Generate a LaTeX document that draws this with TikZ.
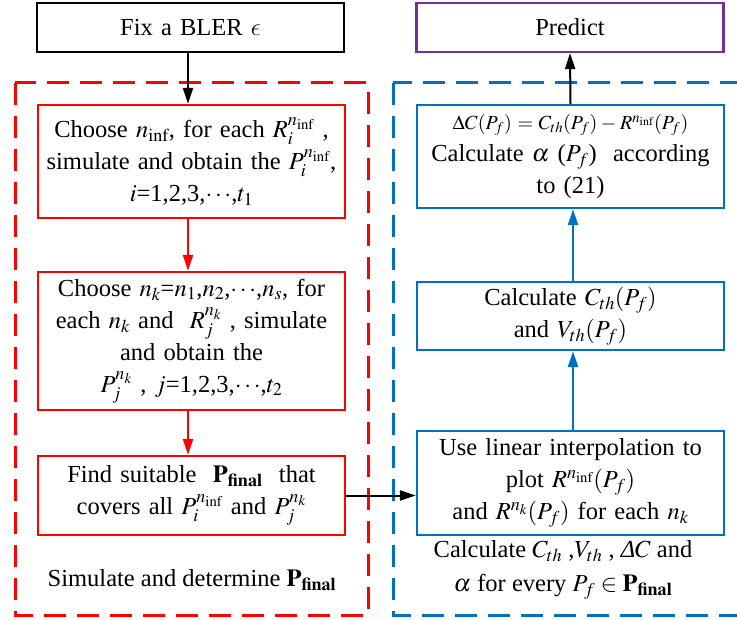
\documentclass[tikz,border=0pt]{standalone}
\usepackage{mathptmx}
\usepackage[no-math]{fontspec}
\setmainfont{Liberation Serif}
\usetikzlibrary{arrows.meta,calc}

\definecolor{flowred}{RGB}{255,0,0}
\definecolor{flowblue}{RGB}{0,112,192}
\definecolor{flowpurple}{RGB}{112,48,160}

\newcommand{\ninf}{n_{\mathrm{inf}}}
\newcommand{\Pfin}{\mathbf{P}_{\mathbf{final}}}
\newcommand{\lunateeps}{{\usefont{OML}{cmm}{m}{it}\char15}}

\tikzset{
  every node/.style={font=\fontsize{24.5}{32}\selectfont},
  stepbox/.style={draw, line width=2.2pt, align=center, inner sep=2pt,
    text width=303pt, minimum width=307pt},
  redbox/.style={stepbox, draw=flowred},
  bluebox/.style={stepbox, draw=flowblue},
  blackbox/.style={stepbox, draw=black},
  purplebox/.style={stepbox, draw=flowpurple},
  frame/.style={line width=3pt, dash pattern=on 22pt off 11pt},
  flow/.style={line width=2pt, -{Triangle[length=16pt,width=10pt]}},
}

\begin{document}
\begin{tikzpicture}[x=1pt,y=1pt]
\useasboundingbox (0,0) rectangle (737,-620);

% group frames
\draw[frame, draw=flowred] (15,-83) rectangle (368,-615);
\draw[frame, draw=flowblue] (393,-83) rectangle (745,-615);

% top boxes
\node[blackbox, minimum height=49pt] (fix) at (190.5,-27.5) {Fix a BLER \lunateeps};
\node[purplebox, minimum height=49pt] (pred) at (570,-27.5) {Predict};

% left column
\node[redbox, minimum height=113pt] (b1) at (191.5,-161.5)
  {Choose $\ninf$, for each $R_i^{\ninf}$ ,\\
   simulate and obtain the $P_i^{\ninf}$,\\
   $i$=1,2,3,$\cdots$,$t_1$};
\node[redbox, minimum height=138pt] (b2) at (191.5,-341)
  {Choose $n_k$=$n_1$,$n_2$,$\cdots$,$n_s$, for\\
   each $n_k$ and \ $R_j^{n_k}$ , simulate\\
   and obtain the\\
   $P_j^{n_k}$ , $j$=1,2,3,$\cdots$,$t_2$};
\node[redbox, minimum height=79pt] (b3) at (191.5,-495.5)
  {Find suitable \ $\Pfin$ \ that\\
   covers all $P_i^{\ninf}$ and $P_j^{n_k}$};
\node (lbl) at (192,-580) {Simulate and determine $\Pfin$};

% right column
\node[bluebox, minimum height=103pt] (ba) at (570.5,-156.5)
  {{\fontsize{20}{28}\selectfont $\Delta C(P_f) = C_{th}(P_f) - R^{\ninf}(P_f)$}\\
   Calculate $\alpha$ ($P_f$) \ according\\
   to (21)};
\node[bluebox, minimum height=68pt] (bb) at (570.5,-316)
  {Calculate $C_{th}(P_f)$\\ and $V_{th}(P_f)$};
\node[bluebox, minimum height=104pt] (bc) at (570.5,-483)
  {Use linear interpolation to\\
   plot $R^{\ninf}(P_f)$\\
   and $R^{n_k}(P_f)$ for each $n_k$};
\node[align=center, font=\fontsize{24.5}{34}\selectfont] (lbr) at (563,-570)
  {Calculate $C_{th}$ ,$V_{th}$ , \textit{Δ}$C$ and\\
   $\alpha$ for every $P_f \in \Pfin$};

% connectors
\draw[flow] ($(fix.south)+(-2.5,0)$) -- ($(b1.north)+(-3.5,0)$);
\draw[flow, draw=flowred, -{Triangle[length=16pt,width=10pt,fill=flowred]}] ($(b1.south)+(-3.5,0)$) -- ($(b2.north)+(-3.5,0)$);
\draw[flow, draw=flowred, -{Triangle[length=16pt,width=10pt,fill=flowred]}] ($(b2.south)+(-3.5,0)$) -- ($(b3.north)+(-3.5,0)$);
\draw[flow] (b3.east) -- (b3.east -| bc.west);
\draw[flow, draw=flowblue, -{Triangle[length=16pt,width=10pt,fill=flowblue]}] ($(bc.north)+(2.5,0)$) -- ($(bb.south)+(2.5,0)$);
\draw[flow, draw=flowblue, -{Triangle[length=16pt,width=10pt,fill=flowblue]}] ($(bb.north)+(2.5,0)$) -- ($(ba.south)+(2.5,0)$);
\draw[flow] (ba.north) -- (pred.south);
\end{tikzpicture}
\end{document}
